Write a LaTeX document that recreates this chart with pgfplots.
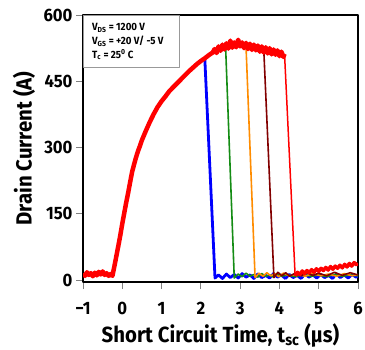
\documentclass[border=0pt]{standalone}
\usepackage{fontspec}
\setmainfont{Fira Sans}[FakeStretch=0.93]
\usepackage{pgfplots}
\usepackage{pgfplotstable}
\pgfplotsset{compat=1.18}
\definecolor{cgreen}{RGB}{20,140,20}
\definecolor{corange}{RGB}{255,140,0}
\definecolor{cdark}{RGB}{130,0,0}

\pgfplotstableread{
t I
-1.00 15
-0.95 10
-0.90 18
-0.85 12
-0.80 16
-0.75 9
-0.70 17
-0.65 11
-0.60 19
-0.55 13
-0.50 20
-0.45 12
-0.40 16
-0.35 10
-0.30 14
-0.25 10
-0.20 32
-0.15 55
-0.10 78
-0.05 102
0.00 128
0.05 152
0.10 176
0.15 198
0.20 222
0.25 245
0.30 262
0.35 278
0.40 292
0.45 304
0.50 317
0.60 338
0.70 358
0.80 376
0.90 392
1.00 405
1.10 416
1.20 428
1.30 437
1.40 446
1.50 455
1.60 464
1.70 473
1.80 481
1.90 489
2.00 496
2.10 502
2.20 509
2.30 515
2.35 523
2.40 514
2.45 529
2.50 519
2.55 533
2.60 522
2.65 536
2.70 524
2.75 542
2.80 526
2.85 538
2.90 527
2.95 544
3.00 529
3.05 538
3.10 525
3.15 537
3.20 523
3.25 535
3.30 521
3.35 533
3.40 520
3.45 531
3.50 517
3.55 529
3.60 515
3.65 527
3.70 513
3.75 525
3.80 511
3.85 522
3.90 510
3.95 520
4.00 507
4.05 517
4.10 505
4.13 512
}\rise

\pgfplotstableread{
t I
2.10 502
2.36 5
2.45 12
2.55 4
2.65 14
2.75 6
2.85 13
2.95 5
3.05 15
3.15 7
3.25 12
3.35 4
3.45 14
3.55 6
3.65 11
3.75 5
3.85 15
3.95 7
4.05 12
4.15 4
4.25 13
4.35 6
4.45 11
4.55 4
4.65 14
4.75 7
4.85 12
4.95 5
5.05 13
5.15 6
5.25 11
5.35 4
5.45 14
5.55 6
5.65 12
5.75 5
5.85 13
5.95 7
6.00 10
}\blue

\pgfplotstableread{
t I
2.63 528
2.85 5
2.95 14
3.05 8
3.15 16
3.25 9
3.35 13
3.45 7
3.55 15
3.65 9
3.75 12
3.85 7
3.95 14
4.05 9
4.20 12
4.40 8
4.60 13
4.80 9
5.00 12
5.20 8
5.40 13
5.60 9
5.80 12
6.00 10
}\green

\pgfplotstableread{
t I
3.15 528
3.38 6
3.48 16
3.58 9
3.68 17
3.78 10
3.88 15
3.98 8
4.10 16
4.25 10
4.45 14
4.65 9
4.85 15
5.05 10
5.25 14
5.45 9
5.65 15
5.85 10
6.00 13
}\orange

\pgfplotstableread{
t I
3.60 524
3.86 6
3.96 18
4.06 10
4.16 17
4.26 9
4.40 16
4.55 10
4.70 17
4.85 11
5.00 16
5.20 10
5.40 18
5.60 11
5.80 17
6.00 12
}\dark

\pgfplotstableread{
t I
4.13 512
4.40 10
}\redfall

\pgfplotstableread{
t I
4.40 10
4.46 18
4.52 13
4.58 21
4.64 15
4.70 22
4.76 17
4.82 24
4.88 18
4.94 26
5.00 20
5.06 27
5.12 22
5.18 29
5.24 23
5.30 31
5.36 25
5.42 32
5.48 27
5.54 34
5.60 28
5.66 36
5.72 30
5.78 38
5.84 32
5.90 40
5.96 35
6.00 38
}\redtail

\begin{document}
\begin{tikzpicture}
\begin{axis}[
  name=ax,
  scale only axis,
  width=275bp, height=267bp,
  xmin=-1, xmax=6, ymin=-4, ymax=600,
  xtick={-1,0,1,2,3,4,5,6},
  xticklabels={−1,0,1,2,3,4,5,6},
  ytick={0,150,300,450,600},
  xtick pos=bottom, ytick pos=left,
  tick align=outside,
  major tick length=7bp,
  tick style={gray, line width=0.9bp},
  axis line style={line width=1.2bp},
  /pgf/number format/assume math mode=true,
  ticklabel style={font=\bfseries\fontsize{18}{18}\selectfont},
  xticklabel style={yshift=-10bp},
  xlabel={Short Circuit Time, t\textsubscript{sc} (µs)},
  ylabel={Drain Current (A)},
  label style={font=\bfseries\fontsize{22}{22}\selectfont},
  xlabel style={at={(axis description cs:0.5,-0.225)}, anchor=base},
  ylabel style={at={(axis description cs:-0.215,0.5)}, anchor=center},
  line join=round,
]
\addplot[blue, line width=1.2bp] table[restrict x to domain=-1:2.1] {\rise};
\addplot[blue, line width=2.8bp] table {\blue};
\addplot[cgreen, line width=1.2bp] table[restrict x to domain=-1:2.62] {\rise};
\addplot[cgreen, line width=1.6bp] table {\green};
\addplot[corange, line width=1.2bp] table[restrict x to domain=-1:3.15] {\rise};
\addplot[corange, line width=1.6bp] table {\orange};
\addplot[cdark, line width=1.2bp] table[restrict x to domain=-1:3.6] {\rise};
\addplot[cdark, line width=1.6bp] table {\dark};
\addplot[red, line width=4.5bp] table {\rise};
\addplot[red, line width=1.5bp] table {\redfall};
\addplot[red, line width=3.5bp] table {\redtail};
\node[draw=gray!80, line width=0.8bp, fill=white, anchor=north west,
      minimum width=96bp, minimum height=52bp, inner sep=0pt] at (rel axis cs:0,1) {};
\node[anchor=north west, align=left, inner sep=0pt,
      font=\bfseries\fontsize{10.5}{14}\selectfont]
   at ([xshift=9bp,yshift=-8bp]rel axis cs:0,1)
   {V\textsubscript{DS} = 1200 V\\
    V\textsubscript{GS} = +20 V/ -5 V\\
    T\textsubscript{c} = 25\textsuperscript{0} C};
\end{axis}
\pgfresetboundingbox
\path[use as bounding box] ([shift={(-83bp,-67bp)}]ax.south west) rectangle ([shift={(7bp,15bp)}]ax.north east);
\end{tikzpicture}
\end{document}
